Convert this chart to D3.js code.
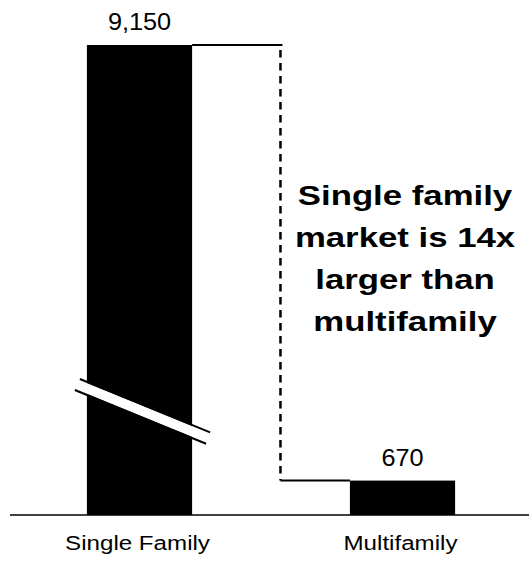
<!DOCTYPE html>
<html>
<head>
<meta charset="utf-8">
<script src="https://cdn.jsdelivr.net/npm/d3@7"></script>
<style>
  html, body { margin: 0; padding: 0; background: #fff; }
  svg { display: block; font-family: "Liberation Sans", Arial, Helvetica, sans-serif; }
</style>
</head>
<body>
<svg id="chart" width="529" height="566"></svg>
<script>
// Market size by housing type
const categories = ["Single Family", "Multifamily"];
const values = [9150, 670];
const valueLabels = ["9,150", "670"];
const calloutLines = ["Single family", "market is 14x", "larger than", "multifamily"];

const W = 529, H = 566;
const svg = d3.select("#chart");

const x = d3.scaleBand()
  .domain(categories)
  .range([8, 534])
  .paddingInner(0.6)
  .paddingOuter(0.3);

const y = d3.scaleLinear()
  .domain([0, d3.max(values)])
  .range([515, 45]);

const fmt = d3.format(",");

// baseline
svg.append("line")
  .attr("x1", 10).attr("x2", W)
  .attr("y1", y(0)).attr("y2", y(0))
  .attr("stroke", "#000").attr("stroke-width", 1.5);

// bars
svg.selectAll("rect.bar")
  .data(categories)
  .join("rect")
  .attr("class", "bar")
  .attr("x", d => x(d))
  .attr("width", x.bandwidth())
  .attr("y", (d, i) => y(values[i]))
  .attr("height", (d, i) => y(0) - y(values[i]))
  .attr("fill", "#000");

// connector from the tall bar top down to the short bar top
const xA = x(categories[0]) + x.bandwidth();
const xB = x(categories[1]);
const xMid = xA + (xB - xA) * 0.56;
const yTop = y(values[0]);
const yLow = y(values[1]);

svg.append("line")
  .attr("x1", xA).attr("x2", xMid + 2)
  .attr("y1", yTop).attr("y2", yTop)
  .attr("stroke", "#000").attr("stroke-width", 2);

svg.append("line")
  .attr("x1", xMid).attr("x2", xMid)
  .attr("y1", yTop + 5).attr("y2", yLow)
  .attr("stroke", "#000").attr("stroke-width", 2.5)
  .attr("stroke-dasharray", "7.5,5.5");

svg.append("line")
  .attr("x1", xMid).attr("x2", xB)
  .attr("y1", yLow).attr("y2", yLow)
  .attr("stroke", "#000").attr("stroke-width", 2);

// axis break on the tall bar
const bx0 = x(categories[0]) - 12, bx1 = x(categories[0]) + x.bandwidth() + 16;
const slope = 0.41;
const b0 = 378;
const gap = 11;
const brk = svg.append("g");
brk.append("polygon")
  .attr("points", [
    [bx0, b0], [bx1, b0 + (bx1 - bx0) * slope],
    [bx1, b0 + (bx1 - bx0) * slope + gap], [bx0, b0 + gap]
  ].map(p => p.join(",")).join(" "))
  .attr("fill", "#fff");
brk.append("line")
  .attr("x1", bx0 + 5).attr("y1", b0 + 5 * slope - 1)
  .attr("x2", bx1 + 2).attr("y2", b0 + (bx1 - bx0 + 2) * slope - 1)
  .attr("stroke", "#000").attr("stroke-width", 2);
brk.append("line")
  .attr("x1", bx0).attr("y1", b0 + gap + 1)
  .attr("x2", bx1 - 2).attr("y2", b0 + (bx1 - bx0 - 2) * slope + gap + 1)
  .attr("stroke", "#000").attr("stroke-width", 2);

// value labels
svg.selectAll("text.val")
  .data(categories)
  .join("text")
  .attr("class", "val")
  .attr("transform", (d, i) =>
    `translate(${x(d) + x.bandwidth() / 2},${y(values[i]) - 15}) scale(1.1,1)`)
  .attr("text-anchor", "middle")
  .attr("font-size", 23)
  .attr("fill", "#000")
  .text((d, i) => valueLabels[i] || fmt(values[i]));

// category labels
svg.selectAll("text.cat")
  .data(categories)
  .join("text")
  .attr("class", "cat")
  .attr("transform", d => `translate(${x(d) + x.bandwidth() / 2 - 2},550) scale(1.15,1)`)
  .attr("text-anchor", "middle")
  .attr("font-size", 21)
  .attr("fill", "#000")
  .text(d => d);

// callout
svg.selectAll("text.callout")
  .data(calloutLines)
  .join("text")
  .attr("class", "callout")
  .attr("transform", (d, i) => `translate(405,${205 + i * 42}) scale(1.22,1)`)
  .attr("text-anchor", "middle")
  .attr("font-size", 28.5)
  .attr("font-weight", "bold")
  .attr("fill", "#000")
  .text(d => d);
</script>
</body>
</html>
